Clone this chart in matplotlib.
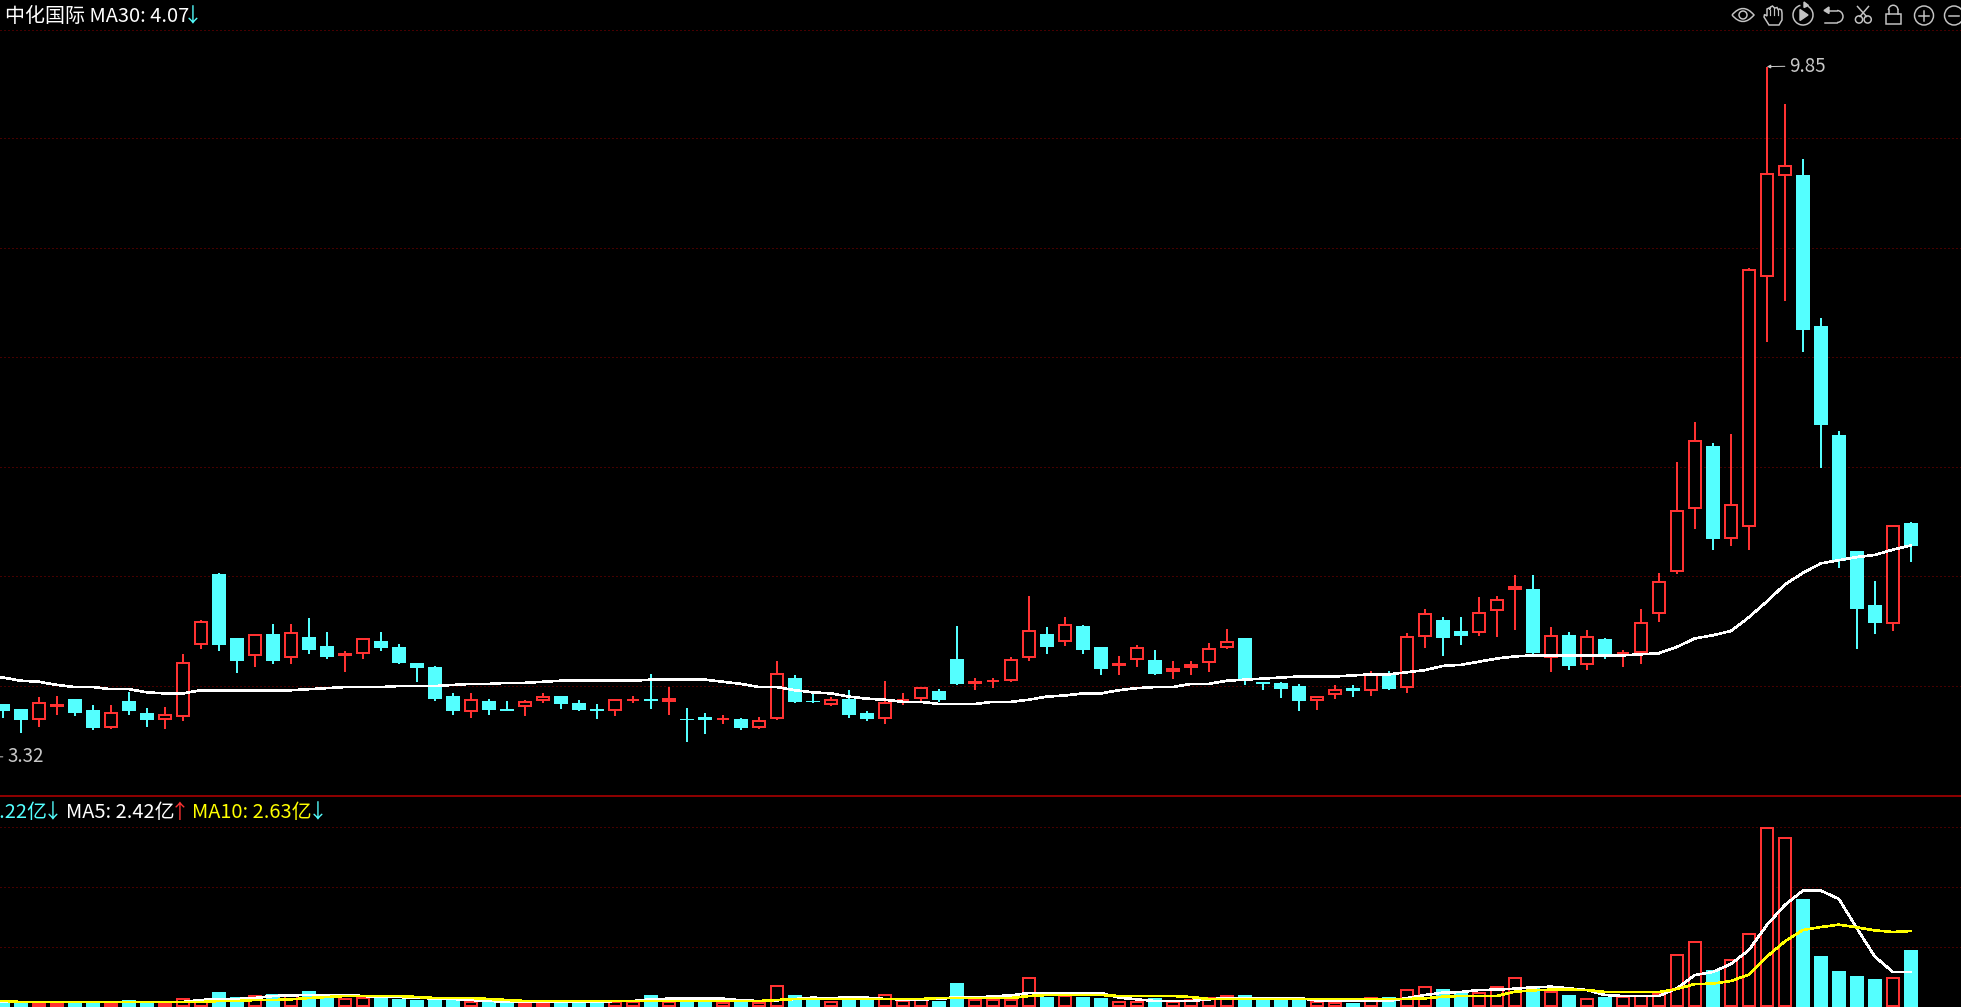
#!/usr/bin/env python3

"""."""
import numpy as np
from matplotlib import pyplot as plt
from matplotlib.patches import Arc, Circle, PathPatch, Polygon, Rectangle
from matplotlib.path import Path

plt.rcParams['font.family'] = ['Noto Sans CJK SC', 'DejaVu Sans']

WIDTH, HEIGHT = 1961, 1007

# price panel, yuan
opens = [
    3.82, 3.77, 3.67, 3.79, 3.87, 3.76, 3.59, 3.85, 3.73, 3.67,
    3.70, 4.38, 5.05, 4.44, 4.27, 4.48, 4.25, 4.45, 4.37, 4.27,
    4.29, 4.42, 4.36, 4.21, 4.17, 3.90, 3.74, 3.85, 3.77, 3.79,
    3.85, 3.90, 3.83, 3.77, 3.75, 3.85, 3.87, 3.84, 3.68, 3.70,
    3.67, 3.68, 3.59, 3.68, 4.07, 3.85, 3.81, 3.87, 3.73, 3.68,
    3.85, 3.87, 3.94, 4.25, 4.01, 4.03, 4.04, 4.25, 4.48, 4.41,
    4.56, 4.36, 4.18, 4.24, 4.24, 4.12, 4.16, 4.21, 4.35, 4.44,
    4.03, 4.02, 3.99, 3.85, 3.90, 3.97, 3.94, 4.11, 3.97, 4.45,
    4.61, 4.51, 4.49, 4.70, 4.90, 4.91, 4.25, 4.47, 4.19, 4.43,
    4.29, 4.30, 4.67, 5.07, 5.66, 6.26, 5.38, 5.49, 7.86, 8.81,
    8.82, 7.40, 6.36, 5.27, 4.76, 4.58, 5.53]
closes = [
    3.75, 3.67, 3.84, 3.82, 3.73, 3.59, 3.74, 3.75, 3.67, 3.73,
    4.22, 4.61, 4.38, 4.23, 4.48, 4.23, 4.50, 4.33, 4.26, 4.30,
    4.44, 4.35, 4.21, 4.16, 3.87, 3.75, 3.87, 3.76, 3.75, 3.85,
    3.90, 3.82, 3.76, 3.75, 3.87, 3.87, 3.85, 3.88, 3.67, 3.67,
    3.68, 3.59, 3.67, 4.11, 3.84, 3.84, 3.87, 3.72, 3.68, 3.84,
    3.87, 3.98, 3.86, 4.01, 4.04, 4.04, 4.25, 4.52, 4.36, 4.58,
    4.33, 4.15, 4.21, 4.36, 4.10, 4.16, 4.20, 4.35, 4.42, 4.04,
    4.01, 3.96, 3.85, 3.90, 3.96, 3.94, 4.10, 3.96, 4.46, 4.68,
    4.44, 4.46, 4.69, 4.81, 4.94, 4.30, 4.47, 4.18, 4.46, 4.29,
    4.31, 4.60, 4.98, 5.66, 6.32, 5.38, 5.71, 7.94, 8.84, 8.92,
    7.36, 6.46, 5.17, 4.72, 4.59, 5.51, 5.31]
highs = [
    3.82, 3.77, 3.89, 3.90, 3.87, 3.81, 3.81, 3.93, 3.78, 3.79,
    4.29, 4.61, 5.06, 4.44, 4.48, 4.58, 4.58, 4.63, 4.50, 4.32,
    4.44, 4.50, 4.39, 4.21, 4.18, 3.92, 3.92, 3.87, 3.85, 3.86,
    3.92, 3.90, 3.86, 3.82, 3.87, 3.90, 4.10, 3.98, 3.78, 3.73,
    3.72, 3.69, 3.70, 4.23, 4.09, 3.92, 3.89, 3.95, 3.75, 4.04,
    3.92, 3.98, 3.96, 4.56, 4.07, 4.07, 4.26, 4.84, 4.55, 4.64,
    4.57, 4.36, 4.27, 4.38, 4.33, 4.23, 4.23, 4.40, 4.53, 4.44,
    4.03, 4.03, 4.01, 3.90, 4.00, 4.00, 4.13, 4.13, 4.49, 4.72,
    4.64, 4.64, 4.83, 4.84, 5.04, 5.04, 4.55, 4.50, 4.52, 4.44,
    4.33, 4.72, 5.06, 6.11, 6.49, 6.29, 6.37, 7.94, 9.85, 9.50,
    8.98, 7.47, 6.40, 5.27, 4.98, 5.51, 5.54]
lows = [
    3.69, 3.55, 3.60, 3.72, 3.71, 3.57, 3.58, 3.72, 3.60, 3.58,
    3.66, 4.34, 4.32, 4.11, 4.17, 4.20, 4.20, 4.29, 4.25, 4.12,
    4.25, 4.32, 4.20, 4.03, 3.85, 3.72, 3.69, 3.72, 3.75, 3.71,
    3.83, 3.77, 3.75, 3.68, 3.71, 3.83, 3.77, 3.72, 3.46, 3.54,
    3.63, 3.57, 3.58, 3.67, 3.83, 3.83, 3.80, 3.69, 3.66, 3.63,
    3.81, 3.85, 3.84, 4.00, 3.95, 3.97, 4.03, 4.23, 4.29, 4.37,
    4.29, 4.09, 4.09, 4.17, 4.09, 4.06, 4.09, 4.12, 4.34, 4.00,
    3.95, 3.88, 3.75, 3.76, 3.87, 3.89, 3.90, 3.95, 3.92, 4.35,
    4.27, 4.38, 4.46, 4.45, 4.52, 4.29, 4.12, 4.14, 4.14, 4.25,
    4.17, 4.20, 4.60, 5.05, 5.48, 5.28, 5.31, 5.28, 7.24, 7.63,
    7.15, 6.05, 5.11, 4.34, 4.48, 4.51, 5.16]

# the moving averages start one day before the first whole candle
ma30 = [
    4.08,
    4.07, 4.04, 4.03, 4.00, 3.98, 3.98, 3.96, 3.96, 3.93, 3.92,
    3.92, 3.95, 3.95, 3.95, 3.95, 3.95, 3.95, 3.96, 3.97, 3.98,
    3.98, 3.98, 3.99, 3.99, 3.99, 4.00, 4.01, 4.01, 4.02, 4.02,
    4.03, 4.04, 4.04, 4.04, 4.04, 4.04, 4.05, 4.05, 4.05, 4.05,
    4.03, 4.01, 3.98, 3.98, 3.95, 3.93, 3.92, 3.89, 3.87, 3.86,
    3.84, 3.84, 3.82, 3.82, 3.82, 3.84, 3.84, 3.86, 3.89, 3.90,
    3.92, 3.92, 3.95, 3.97, 3.98, 3.98, 4.01, 4.01, 4.04, 4.05,
    4.06, 4.07, 4.08, 4.08, 4.08, 4.09, 4.10, 4.10, 4.12, 4.14,
    4.18, 4.19, 4.22, 4.25, 4.27, 4.28, 4.28, 4.28, 4.28, 4.28,
    4.28, 4.29, 4.30, 4.36, 4.44, 4.47, 4.51, 4.64, 4.79, 4.95,
    5.06, 5.15, 5.18, 5.21, 5.23, 5.28, 5.32]
price_grid = [10.196, 9.174, 8.134, 7.098, 6.062, 5.026, 3.990]

# volume panel, 亿
volumes = [
    2.22, 2.2, 2.2, 2.2, 2.2, 2.2, 2.2, 2.8, 2.2, 2.2,
    3.2, 2.8, 4.4, 3.4, 3.8, 4.0, 3.9, 4.6, 3.6, 3.2,
    3.4, 3.4, 3.0, 2.8, 2.8, 2.8, 2.6, 2.4, 2.2, 2.2,
    2.2, 2.2, 2.2, 2.4, 2.6, 2.6, 3.8, 2.6, 2.6, 2.6,
    2.4, 2.4, 2.4, 5.8, 3.8, 3.0, 2.6, 3.2, 3.0, 4.0,
    2.8, 3.0, 2.6, 6.2, 3.0, 3.0, 3.0, 7.4, 3.4, 3.8,
    3.4, 3.2, 2.6, 2.6, 3.2, 2.6, 3.0, 3.4, 3.8, 3.8,
    2.8, 3.0, 3.0, 2.6, 2.4, 2.2, 3.4, 3.4, 5.0, 5.6,
    5.0, 4.2, 4.4, 5.6, 7.4, 5.2, 4.6, 3.8, 3.3, 3.4,
    3.6, 3.9, 4.3, 12.1, 14.7, 8.8, 11.1, 16.3, 37.5, 35.5,
    23.0, 11.6, 8.6, 7.6, 7.0, 7.5, 12.8]
vol_ma5 = [
    2.42,
    2.42, 2.4, 2.4, 2.4, 2.4, 2.4, 2.4, 2.4, 2.4, 2.4,
    2.4, 2.8, 3.0, 3.0, 3.2, 3.6, 3.73, 3.8, 3.8, 3.8,
    3.6, 3.4, 3.4, 3.2, 3.13, 3.0, 2.8, 2.6, 2.47, 2.4,
    2.4, 2.4, 2.4, 2.4, 2.6, 2.6, 2.93, 3.07, 3.07, 3.07,
    3.07, 2.73, 2.6, 2.73, 3.0, 3.27, 3.13, 3.4, 3.27, 3.0,
    2.93, 2.93, 3.0, 3.4, 3.27, 3.53, 3.73, 4.2, 4.2, 4.2,
    4.2, 4.2, 3.27, 2.93, 2.6, 2.6, 2.6, 2.93, 3.2, 3.2,
    3.2, 3.2, 3.2, 2.7, 2.6, 2.6, 2.6, 2.6, 3.2, 3.8,
    4.27, 4.4, 4.8, 4.87, 5.07, 5.33, 5.47, 5.13, 4.8, 3.8,
    3.6, 3.6, 3.6, 5.13, 7.8, 8.4, 10.0, 12.8, 17.8, 21.8,
    24.67, 24.67, 23.0, 17.13, 11.47, 8.4, 8.4]
vol_ma10 = [
    2.63,
    2.63, 2.4, 2.4, 2.4, 2.4, 2.4, 2.4, 2.4, 2.4, 2.4,
    2.4, 2.4, 2.6, 2.6, 2.8, 2.8, 2.93, 3.2, 3.4, 3.6,
    3.6, 3.6, 3.6, 3.4, 3.2, 3.2, 3.2, 3.0, 2.8, 2.6,
    2.6, 2.6, 2.6, 2.6, 2.6, 2.6, 2.6, 2.6, 2.6, 2.6,
    2.6, 2.6, 2.6, 2.8, 3.0, 3.0, 3.0, 3.0, 3.0, 3.0,
    3.0, 3.0, 3.2, 3.2, 3.2, 3.2, 3.2, 3.6, 3.8, 3.8,
    3.8, 3.8, 3.6, 3.6, 3.6, 3.6, 3.4, 3.0, 3.0, 3.0,
    3.0, 3.0, 3.0, 3.0, 3.0, 3.0, 3.0, 3.0, 3.0, 3.13,
    3.47, 3.6, 3.6, 3.6, 4.47, 4.73, 4.87, 4.87, 4.8, 4.4,
    4.4, 4.4, 4.4, 5.0, 6.0, 6.07, 6.6, 7.87, 11.47, 14.53,
    16.8, 17.4, 17.87, 17.33, 16.73, 16.4, 16.6]
vol_grid = [37.4, 25.4, 13.4]

RED = '#ff3232'
CYAN = '#54ffff'
GRID = '#8c0000'
ICON = '#c4c4c4'
LABEL = '#c8c8c8'
PX = 0.72  # one pixel in points at dpi 100


def draw_candles(ax, days, up):
    """."""
    colors = np.where(up, RED, CYAN)
    ax.vlines(days, lows, highs, colors=colors, lw=2*PX, zorder=2)
    top = np.maximum(opens, closes)
    bot = np.minimum(opens, closes)
    ax.bar(days[~up], (top-bot)[~up], bottom=bot[~up], width=14/18,
           color=CYAN, lw=0, zorder=3)
    inner = np.maximum(top-bot-0.02, 0)
    ax.bar(days[up], inner[up], bottom=(bot+0.01)[up], width=12/18,
           facecolor='black', edgecolor=RED, lw=2*PX, zorder=3)


def draw_volume(ax, days, up, floor):
    """."""
    vols = np.array(volumes)
    ax.bar(days[~up], (vols-floor)[~up], bottom=floor, width=14/18,
           color=CYAN, lw=0, zorder=2)
    ax.bar(days[up], (vols-floor-0.4)[up], bottom=floor+0.2, width=12/18,
           facecolor='black', edgecolor=RED, lw=2*PX, zorder=2)


def draw_icons(ax):
    """Toolbar at the top right, in pixel coordinates."""
    style = dict(fill=False, edgecolor=ICON, lw=1.5*PX)

    # eye
    verts = [(1732, 15), (1743, 2), (1754, 15), (1743, 28), (1732, 15)]
    codes = [Path.MOVETO, Path.CURVE3, Path.CURVE3, Path.CURVE3, Path.CURVE3]
    ax.add_patch(PathPatch(Path(verts, codes), **style))
    ax.add_patch(Circle((1743, 15), 4, **style))

    # hand
    verts = [(1769, 25), (1764, 17), (1764.5, 14.5), (1767, 16), (1767, 9),
             (1769, 8), (1770, 9.5), (1770.5, 7), (1772.5, 6), (1774, 7.5),
             (1775, 8), (1777, 7.5), (1778, 9.5), (1779.5, 9), (1781.5, 10),
             (1782, 13), (1782, 20), (1779, 25), (1769, 25)]
    ax.add_patch(Polygon(verts, closed=True, **style))
    for x, y in ((1770, 9.5), (1774, 7.5), (1778, 9.5)):
        ax.plot([x, x], [y, 15], color=ICON, lw=1.2*PX)

    # replay
    ax.add_patch(Arc((1803, 15), 20, 20, theta1=-60, theta2=255,
                     edgecolor=ICON, lw=1.5*PX))
    ax.add_patch(Polygon([(1800, 9.5), (1808, 15), (1800, 20.5)],
                         closed=True, color=ICON))
    ax.add_patch(Polygon([(1804, 2), (1808.5, 5.5), (1804, 7.5)],
                         closed=True, color=ICON))

    # undo
    ax.plot([1826, 1837], [10.5, 10.5], color=ICON, lw=1.5*PX)
    ax.add_patch(Arc((1837, 16.5), 12, 12, theta1=-90, theta2=90,
                     edgecolor=ICON, lw=1.5*PX))
    ax.plot([1837, 1825], [22.5, 22.5], color=ICON, lw=1.5*PX)
    ax.add_patch(Polygon([(1824, 10.5), (1829, 7), (1829, 13.5)],
                         closed=True, color=ICON))

    # scissors
    ax.plot([1860, 1868.5], [16.5, 6.5], color=ICON, lw=1.5*PX)
    ax.plot([1866.5, 1857.5], [16.5, 6.5], color=ICON, lw=1.5*PX)
    ax.add_patch(Circle((1859, 19.5), 3.6, **style))
    ax.add_patch(Circle((1867.7, 19.5), 3.6, **style))

    # lock
    ax.add_patch(Rectangle((1886, 14), 14.5, 10, **style))
    ax.plot([1888.5, 1888.5], [14, 10], color=ICON, lw=1.5*PX)
    ax.plot([1898, 1898], [14, 10], color=ICON, lw=1.5*PX)
    ax.add_patch(Arc((1893.2, 10), 9.5, 9.5, theta1=180, theta2=360,
                     edgecolor=ICON, lw=1.5*PX))

    # zoom in, zoom out
    ax.add_patch(Circle((1924, 15.5), 9.5, **style))
    ax.plot([1919, 1929], [15.5, 15.5], color=ICON, lw=1.5*PX)
    ax.plot([1924, 1924], [10.5, 20.5], color=ICON, lw=1.5*PX)
    ax.add_patch(Circle((1954, 15.5), 9.5, **style))
    ax.plot([1949, 1959], [15.5, 15.5], color=ICON, lw=1.5*PX)


def draw_captions(ax):
    """."""
    size = 14.4
    ax.text(5, 22, '中化国际 MA30: 4.07', color='white', fontsize=size,
            va='baseline')
    ax.text(193, 22, '↓', color=CYAN, fontsize=size, va='baseline',
            ha='center')
    ax.text(47, 818, '2.22亿', color=CYAN, fontsize=size, va='baseline',
            ha='right')
    ax.text(52.5, 818, '↓', color=CYAN, fontsize=size, va='baseline',
            ha='center')
    ax.text(66, 818, 'MA5: 2.42亿', color='white', fontsize=size,
            va='baseline')
    ax.text(180, 818, '↑', color=RED, fontsize=size, va='baseline',
            ha='center')
    ax.text(192, 818, 'MA10: 2.63亿', color='yellow', fontsize=size,
            va='baseline')
    ax.text(318, 818, '↓', color=CYAN, fontsize=size, va='baseline',
            ha='center')


def run():
    """."""
    px_to_price = 105.7
    price_top = 10.48
    vol_zero_px = 1014
    split = 796

    fig = plt.figure(figsize=(WIDTH/100, HEIGHT/100), dpi=100,
                     facecolor='black')
    ax_price = fig.add_axes([0, (HEIGHT-split)/HEIGHT, 1, split/HEIGHT])
    ax_vol = fig.add_axes([0, 0, 1, (HEIGHT-split)/HEIGHT])

    days = np.arange(len(opens))
    up = np.array(closes) > np.array(opens)
    ma_days = np.arange(-1, len(opens))

    for ax in (ax_price, ax_vol):
        ax.set_facecolor('black')
        ax.set_xlim(-2.9/18, (WIDTH-2.9)/18)
        ax.set_xticks([])
        ax.set_yticks([])
        for spine in ax.spines.values():
            spine.set_visible(False)

    ax_price.set_ylim(price_top - split/px_to_price, price_top)
    for level in price_grid:
        ax_price.axhline(level, color=GRID, lw=PX, ls=(0, (1, 3)), zorder=1)
    draw_candles(ax_price, days, up)
    ax_price.plot(ma_days, ma30, color='white', lw=1.6*PX, zorder=4,
                  antialiased=False)

    ax_price.annotate(
        '9.85', xy=(98, 9.85), xytext=(1789, HEIGHT-66),
        textcoords='figure pixels', color=LABEL, fontsize=13.5, va='center',
        arrowprops=dict(arrowstyle='-|>', color=LABEL, lw=PX, shrinkA=1,
                        shrinkB=0, mutation_scale=5))
    ax_price.annotate(
        '3.32', xy=(-0.3, 3.32), xytext=(7, HEIGHT-757),
        textcoords='figure pixels', color=LABEL, fontsize=13.5, va='center',
        annotation_clip=False,
        arrowprops=dict(arrowstyle='-', color=LABEL, lw=PX, shrinkA=1,
                        shrinkB=0))

    floor = (vol_zero_px - HEIGHT) / 5
    ax_vol.set_ylim(floor, (vol_zero_px - split) / 5)
    ax_vol.spines['top'].set_visible(True)
    ax_vol.spines['top'].set_color('#8c0000')
    ax_vol.spines['top'].set_linewidth(2*PX)
    for level in vol_grid:
        ax_vol.axhline(level, color=GRID, lw=PX, ls=(0, (1, 3)), zorder=1)
    draw_volume(ax_vol, days, up, floor)
    ax_vol.plot(ma_days, vol_ma5, color='white', lw=1.6*PX, zorder=3,
                antialiased=False)
    ax_vol.plot(ma_days, vol_ma10, color='yellow', lw=1.6*PX, zorder=4,
                antialiased=False)

    # texts and toolbar sit on top, in pixel coordinates
    ax_top = fig.add_axes([0, 0, 1, 1], facecolor='none')
    ax_top.set_xlim(0, WIDTH)
    ax_top.set_ylim(HEIGHT, 0)
    ax_top.axis('off')
    draw_captions(ax_top)
    draw_icons(ax_top)

    fig.savefig('out.png', dpi=100, facecolor='black')


run()
